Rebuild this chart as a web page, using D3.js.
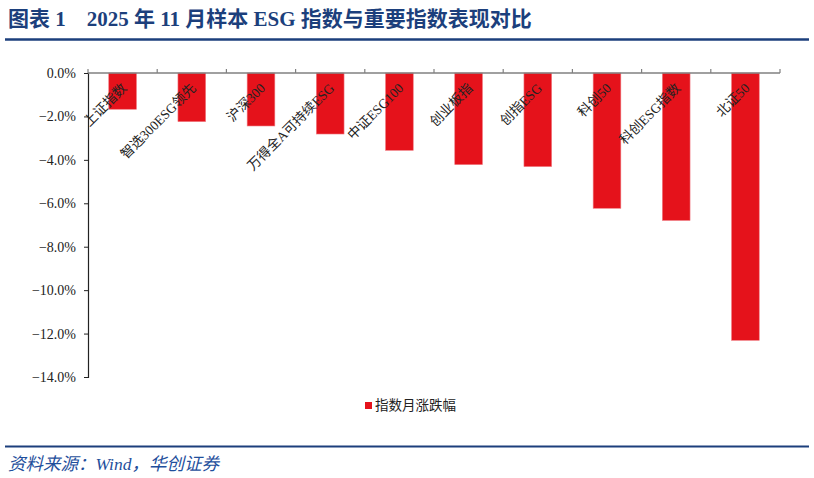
<!DOCTYPE html>
<html><head><meta charset="utf-8">
<script src="https://cdn.jsdelivr.net/npm/d3@7/dist/d3.min.js"></script>
<style>
body{margin:0;background:#fff;}
svg{display:block;}
</style></head>
<body><svg id="c" width="814" height="478"></svg>
<script>
const categories = ["上证指数","智选300ESG领先","沪深300","万得全A可持续ESG","中证ESG100","创业板指","创指ESG","科创50","科创ESG指数","北证50"];
const values = [-1.67,-2.24,-2.44,-2.81,-3.56,-4.22,-4.31,-6.23,-6.79,-12.31];
const yTicks = [0,-2,-4,-6,-8,-10,-12,-14];
const seriesName = "指数月涨跌幅";
const titleText = "图表 1\u00a0\u00a0\u00a0\u00a02025 年 11 月样本 ESG 指数与重要指数表现对比";
const sourceText = "资料来源：Wind，华创证券";

const svg = d3.select("#c");
const serif = "'Liberation Serif','Times New Roman','Noto Sans CJK SC',serif";
const blue = "#1c3f7c";

// title
svg.append("text").attr("x",8).attr("y",26)
  .attr("font-family",serif).attr("font-weight","bold").attr("font-size",21)
  .attr("fill",blue).text(titleText);
svg.append("line").attr("x1",5).attr("x2",809).attr("y1",39.5).attr("y2",39.5)
  .attr("stroke",blue).attr("stroke-width",2.5);

const x = d3.scaleBand().domain(categories).range([88,780]).paddingInner(0.6).paddingOuter(0.3);
const y = d3.scaleLinear().domain([-14,0]).range([377,73]);

// bars
svg.append("g").selectAll("rect").data(values).join("rect")
  .attr("x",(d,i)=>x(categories[i]))
  .attr("width",x.bandwidth())
  .attr("y",y(0))
  .attr("height",d=>y(d)-y(0))
  .attr("fill","#e5121b")
  .attr("stroke","#f07a80").attr("stroke-width",0.6);

// y axis
const ya = svg.append("g").attr("transform","translate(88,0)")
  .call(d3.axisLeft(y).tickValues(yTicks).tickSize(4).tickPadding(8).tickFormat(d=>d3.format(".1f")(d)+"%"));
ya.select(".domain").attr("stroke","#222").attr("stroke-width",1.2);
ya.selectAll(".tick line").attr("stroke","#222");
ya.selectAll("text").attr("font-family",serif).attr("font-size",14).attr("fill","#222");

// x axis line with ticks at band boundaries
const bounds = categories.map(c=>x(c)-x.step()*x.paddingInner()/2);
bounds[0] = 88;
bounds.push(780);
const xa = svg.append("g");
xa.append("line").attr("x1",88).attr("x2",780).attr("y1",y(0)).attr("y2",y(0))
  .attr("stroke","#808080").attr("stroke-width",1.5);
xa.selectAll(".tk").data(bounds).join("line").attr("class","tk")
  .attr("x1",d=>d).attr("x2",d=>d).attr("y1",y(0)).attr("y2",y(0)-4)
  .attr("stroke","#808080").attr("stroke-width",1.2);

// category labels
svg.append("g").selectAll("text").data(categories).join("text")
  .attr("transform",d=>`translate(${x(d)+x.bandwidth()/2+5},${y(0)+16}) rotate(-45)`)
  .attr("text-anchor","end")
  .attr("font-family",serif).attr("font-size",13.5).attr("fill","#222")
  .text(d=>d);

// legend
const lg = svg.append("g");
lg.append("rect").attr("x",365).attr("y",402).attr("width",7).attr("height",7).attr("fill","#e5121b");
lg.append("text").attr("x",375).attr("y",410).attr("font-family",serif).attr("font-size",13.5).attr("fill","#222").text(seriesName);

// footer
svg.append("line").attr("x1",5).attr("x2",809).attr("y1",446.5).attr("y2",446.5)
  .attr("stroke",blue).attr("stroke-width",2.2);
svg.append("text").attr("x",8).attr("y",470)
  .attr("font-family",serif).attr("font-style","italic").attr("font-size",17.5)
  .attr("fill","#1f4f9c").text(sourceText);
</script></body></html>
